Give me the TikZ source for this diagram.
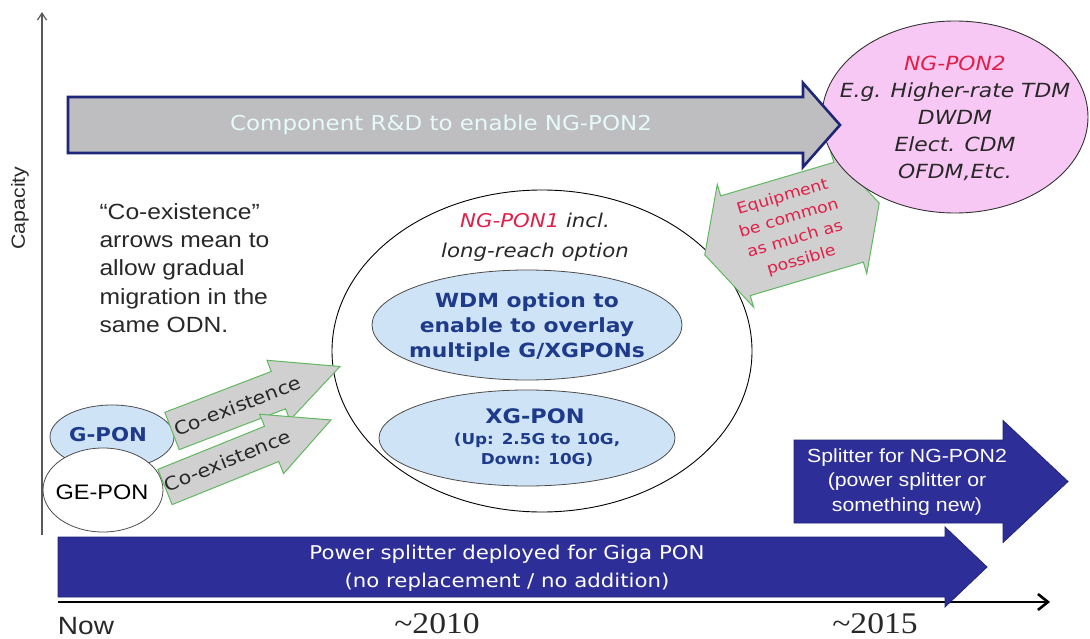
\documentclass[tikz,border=0pt]{standalone}
\usepackage{fontspec}
\usetikzlibrary{arrows.meta,shapes.geometric}
% Verdana-, Arial- and Times-like faces, slightly widened
\newfontfamily\vfont[FakeStretch=1.12]{DejaVu Sans}
\newfontfamily\afont[FakeStretch=1.12]{Liberation Sans}
\newfontfamily\tfont[FakeStretch=1.12]{Liberation Serif}
\newcommand\setfs[2]{\fontsize{#1}{#2}\selectfont}

\definecolor{navyfill}{RGB}{46,46,152}
\definecolor{navyline}{RGB}{30,38,120}
\definecolor{rdgray}{RGB}{190,190,192}
\definecolor{pinkfill}{RGB}{248,200,244}
\definecolor{lightblue}{RGB}{206,228,246}
\definecolor{boldblue}{RGB}{30,58,138}
\definecolor{redtext}{RGB}{224,32,72}
\definecolor{greenline}{RGB}{96,184,96}
\definecolor{coexfill}{RGB}{208,208,208}
\definecolor{darktext}{RGB}{40,40,40}
\definecolor{cyantext}{RGB}{230,250,250}

% block arrow pointing along +x: length, head base, body half width, head half width
\newcommand\blockarrow[5]{%
  \path[#1] (0,-#4) -- (#3,-#4) -- (#3,-#5) -- (#2,0) -- (#3,#5) -- (#3,#4) -- (0,#4) -- cycle;}
% double-headed block arrow centred on the origin
\newcommand\doublearrow[5]{%
  \path[#1] (-#3,-#4) -- (#3,-#4) -- (#3,-#5) -- (#2,0) -- (#3,#5) -- (#3,#4)
    -- (-#3,#4) -- (-#3,#5) -- (-#2,0) -- (-#3,-#5) -- (-#3,-#4) -- cycle;}

\begin{document}
\begin{tikzpicture}[x=1pt,y=-1pt,
  bubble/.style={ellipse, draw=gray!60!black, line width=0.8pt},
  navyarrow/.style={fill=navyfill, draw=navyline, line width=0.8pt},
  coexarrow/.style={fill=coexfill, draw=greenline, line width=1pt},
  whitetxt/.style={text=white, align=center},
]
\useasboundingbox (0,0) rectangle (1090,639);
\fill[white] (0,0) rectangle (1090,639);

% axes
\coordinate (ybot) at (42,535);
\coordinate (ytop) at (42,12);
\draw[gray!70!black, line width=1.2pt, -{Straight Barb[length=7pt,width=9pt]}] (ybot) -- (ytop);
\coordinate (xleft) at (58,602);
\coordinate (xright) at (1050,602);
\draw[black, line width=2.6pt, -{Straight Barb[length=10pt,width=16pt]}] (xleft) -- (xright);
\node[rotate=90, text=darktext, font={\afont\setfs{19}{22}}] (capacity) at (20,208) {Capacity};
\node[text=darktext, font={\afont\setfs{25}{28}}] (now) at (86,626) {Now};
\node[text=darktext, font={\tfont\setfs{30}{32}}] (y2010) at (437,624) {\textasciitilde 2010};
\node[text=darktext, font={\tfont\setfs{30}{32}}] (y2015) at (875,624) {\textasciitilde 2015};

% NG-PON1 envelope with its two options
\node[ellipse, draw=black, line width=0.9pt, fill=white, minimum width=420pt, minimum height=322pt] (ngpon1) at (542,351) {};
\node[text=darktext, align=center, font={\vfont\itshape\setfs{19}{30}}] (ngpon1txt) at (535,237)
  {\textcolor{redtext}{NG-PON1} incl.\\long-reach option};
\node[bubble, fill=lightblue, minimum width=310pt, minimum height=110pt] (wdm) at (527,325) {};
\node[text=boldblue, align=center, font={\vfont\bfseries\setfs{19.5}{25}}] (wdmtxt) at (527,327)
  {WDM option to\\enable to overlay\\multiple G/XGPONs};
\node[bubble, fill=lightblue, minimum width=296pt, minimum height=96pt] (xgpon) at (527,438) {};
\node[text=boldblue, font={\vfont\bfseries\setfs{20}{24}}] (xgpontxt) at (535,416) {XG-PON};
\node[text=boldblue, align=center, font={\vfont\bfseries\setfs{15}{20}}] (xgponsub) at (537,450)
  {(Up: 2.5G to 10G,\\Down: 10G)};

% existing PONs
\node[bubble, fill=lightblue, minimum width=124pt, minimum height=64pt] (gpon) at (112,437) {};
\node[text=boldblue, font={\vfont\bfseries\setfs{19}{22}}] (gpontxt) at (108,435) {G-PON};
\node[bubble, fill=white, minimum width=120pt, minimum height=84pt] (gepon) at (103,490) {};
\node[text=black, font={\afont\setfs{21}{24}}] (gepontxt) at (102,492) {GE-PON};

% co-existence arrows
\begin{scope}[shift={(172,431)}, rotate=21]
  \blockarrow{coexarrow}{180}{114}{20}{32}
  \node[transform shape, text=darktext, inner sep=0pt, font={\vfont\setfs{18.5}{20}}] (coexup) at (70,0) {Co-existence};
\end{scope}
\begin{scope}[shift={(165,487)}, rotate=22]
  \blockarrow{coexarrow}{179}{115}{19}{32}
  \node[transform shape, text=darktext, inner sep=0pt, font={\vfont\setfs{18.5}{20}}] (coexlow) at (68,-1) {Co-existence};
\end{scope}

% explanatory note
\node[anchor=west, align=left, text=darktext, font={\afont\setfs{22}{28.3}}] (note) at (96,268)
  {“Co-existence”\\arrows mean to\\allow gradual\\migration in the\\same ODN.};

% equipment commonality arrow
\begin{scope}[shift={(792,229)}, rotate=16.5]
  \doublearrow{fill=coexfill, draw=greenline, line width=1pt}{91}{59}{52}{64}
  \node[transform shape, text=redtext, align=center, inner sep=0pt, font={\vfont\setfs{15.5}{22}}] (equip) at (0,0)
    {Equipment\\be common\\as much as\\possible};
\end{scope}

% NG-PON2 target
\node[ellipse, draw=gray!40!black, line width=0.9pt, fill=pinkfill, minimum width=266pt, minimum height=192pt] (ngpon2) at (955,117) {};
\node[text=darktext, align=center, font={\vfont\itshape\setfs{19.5}{27}}] (ngpon2txt) at (955,118)
  {\textcolor{redtext}{NG-PON2}\\E.g. Higher-rate TDM\\DWDM\\Elect. CDM\\OFDM,Etc.};

% component R&D arrow
\begin{scope}[shift={(68,125)}]
  \blockarrow{fill=rdgray, draw=navyline, line width=2.6pt, line join=miter}{772}{735}{28}{42}
\end{scope}
\node[text=cyantext, font={\vfont\setfs{20.5}{22}}] (rd) at (441,125) {Component R\&D to enable NG-PON2};

% splitter arrows
\begin{scope}[shift={(794,481.5)}]
  \blockarrow{navyarrow}{274}{209}{41.5}{61}
\end{scope}
\node[whitetxt, font={\afont\setfs{19}{24.5}}] (splitter2) at (907,482)
  {Splitter for NG-PON2\\(power splitter or\\something new)};
\begin{scope}[shift={(58,567)}]
  \blockarrow{navyarrow}{929}{887}{30}{40}
\end{scope}
\node[whitetxt, font={\vfont\setfs{19}{28}}] (splitter1) at (507,568)
  {Power splitter deployed for Giga PON\\(no replacement / no addition)};
\end{tikzpicture}
\end{document}
